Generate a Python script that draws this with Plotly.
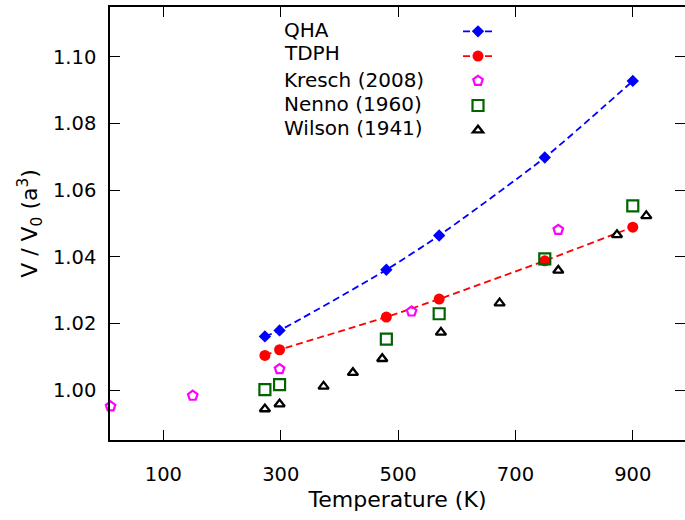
import plotly.graph_objects as go

# ---- data ----
qha_T = [273, 298, 480, 570, 750, 900]
qha_V = [1.0161, 1.0179, 1.0361, 1.0464, 1.0698, 1.0928]

tdph_T = [273, 298, 480, 570, 750, 900]
tdph_V = [1.0104, 1.0121, 1.0219, 1.0273, 1.0388, 1.0489]

kresch_T = [10, 150, 298, 523, 773]
kresch_V = [0.9951, 0.9983, 1.0063, 1.0236, 1.0481]

nenno_T = [273, 298, 480, 570, 750, 900]
nenno_V = [1.0001, 1.0016, 1.0153, 1.0229, 1.0394, 1.0553]

wilson_T = [273, 298, 373, 423, 473, 573, 673, 773, 873, 923]
wilson_V = [0.9943, 0.9958, 1.0011, 1.0052, 1.0094, 1.0173, 1.0261, 1.0359, 1.0466, 1.0523]

series_names = ["QHA", "TDPH", "Kresch (2008)", "Nenno (1960)", "Wilson (1941)"]

x_ticks = [100, 300, 500, 700, 900]
y_ticks = [1.00, 1.02, 1.04, 1.06, 1.08, 1.10]

FONT = "DejaVu Sans"
W, H = 685, 520
ML, MR, MT, MB = 110, 0, 7, 80
PW, PH = W - ML - MR, H - MT - MB

fig = go.Figure()

fig.add_trace(go.Scatter(
    x=qha_T, y=qha_V, name=series_names[0], mode="lines+markers",
    line=dict(color="#0000ff", width=1.8, dash="7px,4px", shape="spline", smoothing=0.6),
    marker=dict(symbol="diamond", size=9.5, color="#0000ff"),
    cliponaxis=False, legendgroup="a"))
fig.add_trace(go.Scatter(
    x=tdph_T, y=tdph_V, name=series_names[1], mode="lines+markers",
    line=dict(color="#ff0000", width=1.8, dash="7px,4px"),
    marker=dict(symbol="circle", size=11, color="#ff0000"),
    cliponaxis=False, legendgroup="b"))
fig.add_trace(go.Scatter(
    x=kresch_T, y=kresch_V, name=series_names[2], mode="markers",
    marker=dict(symbol="pentagon-open", size=10, color="#ff00ff", line=dict(width=2.2, color="#ff00ff")),
    cliponaxis=False, legendgroup="c"))
fig.add_trace(go.Scatter(
    x=nenno_T, y=nenno_V, name=series_names[3], mode="markers",
    marker=dict(symbol="square-open", size=11, color="#006400", line=dict(width=2.2, color="#006400")),
    cliponaxis=False, legendgroup="d"))
fig.add_trace(go.Scatter(
    x=wilson_T, y=wilson_V, name=series_names[4], mode="markers",
    marker=dict(symbol="triangle-up-open", size=9, color="#000000", line=dict(width=2.3, color="#000000")),
    cliponaxis=False, legendgroup="e", yaxis="y2"))

row_px = [29.7, 53.3, 80.0, 104.3, 128.3]
annotations = []
for name, py in zip(series_names, row_px):
    annotations.append(dict(
        text=name, xref="paper", yref="paper",
        x=(282 - ML) / PW, y=(MT + PH - py) / PH,
        xanchor="left", yanchor="middle", showarrow=False,
        font=dict(family=FONT, size=20, color="#000000")))

axis_common = dict(
    showgrid=False, zeroline=False, ticks="inside", ticklen=10, tickwidth=1.3,
    tickcolor="#000000", linecolor="#000000", linewidth=1.5,
    tickfont=dict(family=FONT, size=19.5, color="#000000"),
)

fig.update_layout(
    width=W, height=H,
    margin=dict(l=ML, r=MR, t=MT, b=MB),
    paper_bgcolor="white", plot_bgcolor="white",
    font=dict(family=FONT, color="#000000"),
    xaxis=dict(
        range=[9, 989], tickvals=x_ticks, ticktext=[str(v) for v in x_ticks],
        showline=True, mirror="ticks", ticklabelstandoff=16,
        title=dict(text="Temperature (K)", font=dict(family=FONT, size=22), standoff=6),
        **axis_common),
    yaxis=dict(
        range=[0.985, 1.115], tickvals=y_ticks, ticktext=[f"{v:.2f}" for v in y_ticks],
        showline=True, mirror=False, ticklabelstandoff=8,
        title=dict(text="V / V<sub>0</sub> (a<sup>3</sup>)", font=dict(family=FONT, size=22), standoff=9),
        **axis_common),
    yaxis2=dict(
        overlaying="y", side="right", matches="y", tickvals=y_ticks,
        showticklabels=False, showline=False, showgrid=False, zeroline=False,
        ticks="inside", ticklen=10, tickwidth=1.3, tickcolor="#000000"),
    showlegend=True,
    legend=dict(
        x=(458 - ML) / PW, y=(MT + PH - 14) / PH, xanchor="left", yanchor="top",
        bgcolor="rgba(0,0,0,0)", borderwidth=0,
        font=dict(family=FONT, size=16.7, color="rgba(0,0,0,0)"),
        tracegroupgap=0, itemwidth=30),
    annotations=annotations,
)

fig.write_html("out.html")
